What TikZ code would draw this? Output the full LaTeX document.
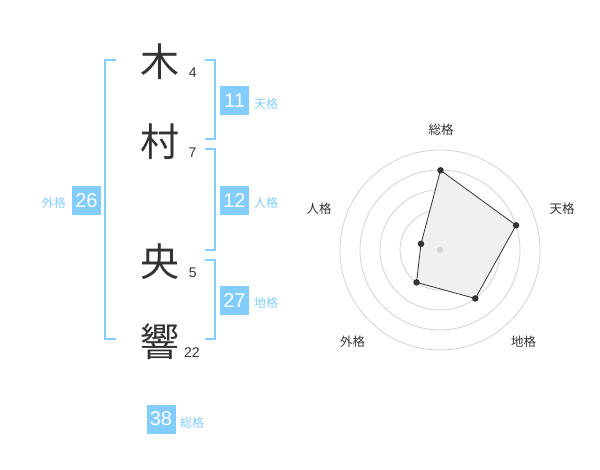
\documentclass[tikz,border=0pt]{standalone}
\usepackage{fontspec}
\usetikzlibrary{calc}
\setmainfont{Liberation Sans}
\newfontfamily\cjk{Noto Sans CJK JP}
\definecolor{sky}{RGB}{130,205,252}
\definecolor{ink}{RGB}{51,51,51}
\definecolor{ring}{RGB}{210,210,210}
\definecolor{area}{RGB}{240,240,240}
\begin{document}
\begin{tikzpicture}[x=1pt,y=-1pt,
  bigchar/.style={inner sep=0pt,text=ink,font=\cjk\fontsize{39}{39}\selectfont},
  strokes/.style={inner sep=0pt,text=ink,font=\fontsize{14}{14}\selectfont},
  gbox/.style={fill=sky,minimum width=29pt,minimum height=29pt,inner sep=0pt,text=white,font=\fontsize{20}{20}\selectfont},
  glabel/.style={inner sep=0pt,text=sky,font=\cjk\fontsize{12}{12}\selectfont},
  bracket/.style={draw=sky,line width=2pt},
  rlabel/.style={inner sep=0pt,text=ink,font=\cjk\fontsize{12.5}{12.5}\selectfont},
  ringline/.style={draw=ring,line width=0.8pt},
  vdot/.style={circle,fill=ink,inner sep=0pt,minimum size=6.5pt}
]
\useasboundingbox (0,0) rectangle (600,470);
% name characters
\node[bigchar] (c1) at (160,62) {木};
\node[bigchar] (c2) at (160,142) {村};
\node[bigchar] (c3) at (160,262) {央};
\node[bigchar] (c4) at (160,342) {響};
\node[strokes] (s1) at (192.7,73) {4};
\node[strokes] (s2) at (192.5,153) {7};
\node[strokes] (s3) at (192.7,273) {5};
\node[strokes] (s4) at (192,353) {22};
% brackets
\draw[bracket] (115.5,60) -- (105,60) -- (105,339.5) -- (115.5,339.5);
\draw[bracket] (205,60) -- (214.5,60) -- (214.5,139.5) -- (205,139.5);
\draw[bracket] (205,149.5) -- (214.5,149.5) -- (214.5,250) -- (205,250);
\draw[bracket] (205,260) -- (214.5,260) -- (214.5,339.5) -- (205,339.5);
% boxes
\node[gbox] (ten) at (234.5,100.5) {11};
\node[glabel,anchor=west] (tenl) at (254,104) {天格};
\node[gbox] (jin) at (234.5,200.5) {12};
\node[glabel,anchor=west] (jinl) at (254,203) {人格};
\node[gbox] (chi) at (234.5,300.5) {27};
\node[glabel,anchor=west] (chil) at (254,303) {地格};
\node[gbox] (gai) at (86.5,200.5) {26};
\node[glabel,anchor=east] (gail) at (66,203) {外格};
\node[gbox] (sou) at (161,419) {38};
\node[glabel,anchor=west] (soul) at (180,422.5) {総格};
% radar
\coordinate (O) at (440,250);
\foreach \r in {20,40,60,80,100} \draw[ringline] (O) circle[radius=\r];
\coordinate (pS) at (440.5,170.3);
\coordinate (pT) at (516.1,225.3);
\coordinate (pC) at (475.3,298.5);
\coordinate (pG) at (416.5,282.4);
\coordinate (pJ) at (421,243.8);
\draw[ink,fill=area,line width=0.8pt] (pS) -- (pT) -- (pC) -- (pG) -- (pJ) -- cycle;
\node[circle,fill=ring,inner sep=0pt,minimum size=6pt] (ctr) at (O) {};
\foreach \p in {pS,pT,pC,pG,pJ} \node[vdot] at (\p) {};
\node[rlabel] (lS) at (441,130) {総格};
\node[rlabel] (lT) at (562,209) {天格};
\node[rlabel] (lC) at (523.5,342) {地格};
\node[rlabel] (lG) at (352.5,342) {外格};
\node[rlabel] (lJ) at (319,209) {人格};
\end{tikzpicture}
\end{document}
